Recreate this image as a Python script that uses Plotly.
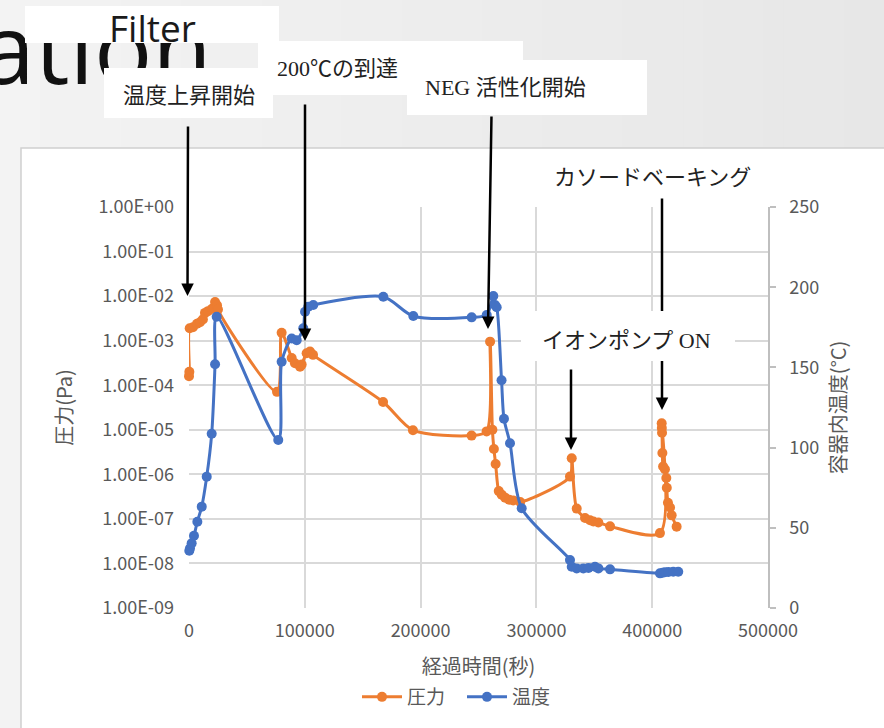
import plotly.graph_objects as go

# ---- data -------------------------------------------------------------
# elapsed time [s] and chamber pressure [Pa]
press_t = [0, 300, 600, 3400, 6900, 9500, 12000, 13800, 16400, 19900, 22500,
           24200, 25000, 76000, 80000, 88700, 91500, 95900, 97300, 101600,
           104500, 107100, 167600, 193400, 244000, 257000, 260000, 262000,
           263300, 264800, 267500, 270000, 273000, 276500, 280000, 286000,
           329000, 330500, 334800, 342000, 346300, 349200, 353500, 363600,
           406700, 408200, 408300, 408500, 408800, 409400, 411000, 412200,
           412600, 413600, 415400, 416800, 421100]
press_p = [1.6e-4, 2.0e-4, 1.9e-3, 2.0e-3, 2.4e-3, 2.6e-3, 3.0e-3, 4.2e-3,
           4.6e-3, 5.2e-3, 7.4e-3, 6.2e-3, 5.0e-3, 7.1e-5, 1.5e-3, 4.1e-4,
           3.1e-4, 2.6e-4, 2.9e-4, 5.2e-4, 5.7e-4, 4.8e-4, 4.2e-5, 9.8e-6,
           7.4e-6, 9.2e-6, 9.5e-4, 1.0e-5, 3.7e-6, 1.7e-6, 4.2e-7, 3.5e-7,
           3.0e-7, 2.7e-7, 2.6e-7, 2.4e-7, 8.9e-7, 2.3e-6, 1.7e-7, 1.05e-7,
           9.3e-8, 8.7e-8, 8.3e-8, 6.8e-8, 4.8e-8, 1.4e-5, 1.1e-5, 8.6e-6,
           3.0e-6, 1.5e-6, 1.3e-6, 8.3e-7, 5.0e-7, 2.3e-7, 1.8e-7, 1.2e-7,
           6.7e-8]

# elapsed time [s] and vessel temperature [°C]
temp_t = [260, 860, 2300, 4300, 7200, 11000, 15300, 19600, 22500, 23900,
          77100, 80000, 88700, 93000, 98700, 100200, 103000, 107300, 167800,
          193700, 244100, 257100, 262800, 264300, 265700, 269900, 272000,
          277200, 287300, 329000, 330500, 334800, 340500, 345000, 350600,
          353500, 363600, 406700, 409000, 411000, 414000, 418200, 422500]
temp_c = [35.7, 37.2, 40.3, 45.0, 53.8, 63.2, 81.9, 108.6, 152.0, 181.6,
          104.7, 153.5, 168.0, 167.0, 174.4, 184.7, 187.8, 188.9, 194.0,
          182.0, 181.2, 182.7, 194.5, 188.9, 187.5, 142.0, 118.0, 102.7,
          62.2, 29.9, 25.7, 24.7, 24.7, 25.0, 25.7, 24.7, 24.1, 21.6, 22.0,
          22.3, 22.5, 22.6, 22.6]

x_ticks = [0, 100000, 200000, 300000, 400000, 500000]
x_tick_text = ["0", "100000", "200000", "300000", "400000", "500000"]
p_exponents = [0, -1, -2, -3, -4, -5, -6, -7, -8, -9]
t_ticks = [0, 50, 100, 150, 200, 250]

p_tick_vals = [10.0 ** e for e in p_exponents]
p_tick_text = ["1.00E{:+03d}".format(e) for e in p_exponents]

# ---- page geometry (pixels) -------------------------------------------
W, H = 884, 728
L, R, T, B = 189, 768, 207, 608          # plot area edges


def px(x):
    return (x - L) / (R - L)


def py(y):
    return (B - y) / (B - T)


ORANGE = "#ED7D31"
BLUE = "#4472C4"
GRID = "#d9d9d9"
TXT = "#595959"
JP = "Noto Sans CJK JP"
SERIF = "Liberation Serif, Noto Sans CJK JP"

fig = go.Figure()
fig.add_trace(go.Scatter(
    x=press_t, y=press_p, name="圧力", mode="lines+markers",
    line=dict(color=ORANGE, width=3, shape="spline", smoothing=0.8),
    marker=dict(color=ORANGE, size=10), cliponaxis=False, yaxis="y"))
fig.add_trace(go.Scatter(
    x=temp_t, y=temp_c, name="温度", mode="lines+markers",
    line=dict(color=BLUE, width=3, shape="spline", smoothing=0.8),
    marker=dict(color=BLUE, size=10), cliponaxis=False, yaxis="y2"))

annotations = []

# slide title fragment behind the labels
annotations.append(dict(xref="paper", yref="paper", x=px(-21), y=py(46),
                        xanchor="left", yanchor="middle", showarrow=False,
                        text="ation", font=dict(family="Open Sans", size=97,
                                                color="#111111")))


def box(x0, y0, x1, y1):
    return dict(xref="paper", yref="paper", x=px(x0), y=py(y0),
                xanchor="left", yanchor="top", showarrow=False,
                text="\u00a0", width=x1 - x0, height=y1 - y0,
                bgcolor="white", borderwidth=0, borderpad=0,
                font=dict(size=4))


def label(x, y, text, anchor="left", size=22, family=SERIF, color="#222222"):
    return dict(xref="paper", yref="paper", x=px(x), y=py(y),
                xanchor=anchor, yanchor="middle", showarrow=False,
                text=text, font=dict(family=family, size=size, color=color))


def arrow(x_tail, y_tail, x_head, y_head):
    return dict(xref="paper", yref="paper", x=px(x_head), y=py(y_head),
                axref="pixel", ayref="pixel", ax=x_tail - x_head,
                ay=y_tail - y_head, text="", showarrow=True, arrowhead=2,
                arrowsize=1, arrowwidth=2.5, arrowcolor="#000000",
                standoff=0, startstandoff=0)


annotations += [box(25, 6, 279, 43), box(258, 41, 523, 95),
                box(104, 68, 273, 118), box(407, 60, 647, 115)]
annotations += [
    label(152, 28, "Filter", anchor="center", size=37, family="Open Sans",
          color="#1a1a1a"),
    label(189, 95, "温度上昇開始", anchor="center"),
    label(275, 69, "200℃の到達"),
    label(423, 88, "NEG 活性化開始"),
]
annotations += [arrow(188, 125, 187.5, 296), arrow(305, 103, 305, 341),
                arrow(491.5, 115, 488, 329), arrow(571, 368, 571, 450),
                arrow(662, 197, 662, 410)]
annotations += [box(521, 311, 735, 361),
                label(552, 178, "カソードベーキング"),
                label(540, 340, "イオンポンプ ON")]

# slide background: soft horizontal shading, then the white chart panel
shapes = []
n_strips = 44
c0, c1 = (243, 243, 243), (231, 231, 231)
for i in range(n_strips):
    f = i / (n_strips - 1)
    col = tuple(round(a + (b - a) * f) for a, b in zip(c0, c1))
    shapes.append(dict(type="rect", xref="paper", yref="paper", layer="below",
                       x0=px(i * W / n_strips), x1=px((i + 1) * W / n_strips + 1),
                       y0=py(-2), y1=py(H + 2),
                       fillcolor="rgb({},{},{})".format(*col),
                       line=dict(width=0)))
shapes.append(dict(type="rect", xref="paper", yref="paper", layer="below",
                   x0=px(21), x1=px(890), y0=py(148), y1=py(740),
                   fillcolor="white", line=dict(color="#d0d0d0", width=1.5)))

tick_font = dict(family=JP, size=18, color=TXT)
title_font = dict(family=JP, size=20, color=TXT)

fig.update_layout(
    width=W, height=H, autosize=False,
    margin=dict(l=L, r=W - R, t=T, b=H - B, pad=0),
    paper_bgcolor="#f1f1f1", plot_bgcolor="white",
    showlegend=True,
    legend=dict(orientation="h", x=px(462), xanchor="center", y=py(697),
                yanchor="middle", font=dict(family=JP, size=19, color=TXT),
                bgcolor="rgba(0,0,0,0)", itemwidth=40, tracegroupgap=0,
                entrywidth=50, entrywidthmode="pixels"),
    xaxis=dict(range=[0, 500000], tickvals=x_ticks, ticktext=x_tick_text,
               showgrid=True, gridcolor=GRID, gridwidth=1.5, zeroline=False,
               showline=False, ticks="", tickfont=tick_font,
               ticklabelstandoff=10, automargin=False,
               title=dict(text="経過時間(秒)", font=title_font, standoff=18)),
    yaxis=dict(type="log", range=[-9, 0], tickvals=p_tick_vals,
               ticktext=p_tick_text, showgrid=True, gridcolor=GRID,
               gridwidth=1.5, zeroline=False, showline=False, ticks="",
               tickfont=tick_font, ticklabelstandoff=14, automargin=False,
               title=dict(text="圧力(Pa)", font=title_font, standoff=20)),
    yaxis2=dict(overlaying="y", side="right", range=[0, 250],
                tickvals=t_ticks, showgrid=False, zeroline=False,
                showline=True, linecolor="#bfbfbf", linewidth=1.5,
                ticks="outside", ticklen=6, tickcolor="#bfbfbf",
                tickwidth=1.5, tickfont=tick_font, ticklabelstandoff=10,
                automargin=False,
                title=dict(text="容器内温度(°C)", font=title_font,
                           standoff=14)),
    annotations=annotations, shapes=shapes, hovermode=False,
)

fig.write_html("out.html")
